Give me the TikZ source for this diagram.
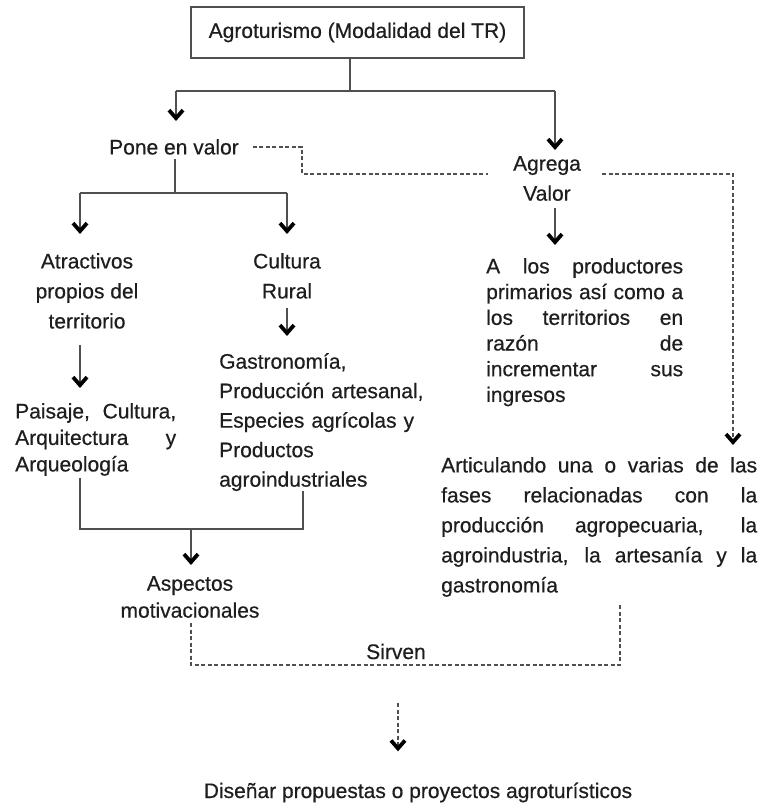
\documentclass[tikz,border=0pt]{standalone}
\usepackage{fontspec}
\setmainfont{Liberation Sans}[FakeBold=0.5]
\usetikzlibrary{arrows.meta}

\definecolor{inkgray}{HTML}{1E1E1E}
\definecolor{linegray}{HTML}{505050}
\hyphenpenalty=10000

\tikzset{
  txt/.style={inner sep=0pt, text=inkgray, font=\fontsize{21}{30}\selectfont},
  ctxt/.style={txt, align=center, anchor=north},
  jblock/.style={txt, align=justify, anchor=north west, text width=#1},
  link/.style={draw=linegray, line width=1.8pt},
  dlink/.style={draw=linegray, line width=1.6pt, dash pattern=on 4pt off 2.5pt},
  chev/.style={-{Straight Barb[length=8pt,width=14pt,line width=3.8pt,color=black]}},
}

\begin{document}
\begin{tikzpicture}[x=1pt,y=-1pt]
  \useasboundingbox (0,0) rectangle (766,806);

  %%% nodes
  \node[txt, draw=linegray, line width=1.6pt, minimum width=333pt, minimum height=51pt] (agro) at (357.5,32.5) {Agroturismo (Modalidad del TR)};

  \node[ctxt] (pone) at (174,139) {Pone en valor};
  \node[ctxt] (agrega) at (547,156) {Agrega\\Valor};

  \node[ctxt] (atr) at (87,253) {Atractivos\\propios del\\territorio};
  \node[ctxt] (cul) at (287,253) {Cultura\\Rural};

  \node[jblock=161pt, font=\fontsize{21}{26.5}\selectfont] (paisaje) at (15,403)
    {Paisaje, Cultura,\linebreak Arquitectura y\linebreak Arqueología};
  \node[txt, align=left, anchor=north west, text width=215pt, font=\fontsize{21}{29.5}\selectfont] (gastro) at (219,353)
    {Gastronomía,\\Producción artesanal,\\Especies agrícolas y\\Productos\\agroindustriales};

  \node[jblock=197pt, font=\fontsize{21}{25.7}\selectfont] (prod) at (486,258)
    {A los productores\linebreak primarios así como a\linebreak los territorios en\linebreak razón de\linebreak incrementar sus\linebreak ingresos};
  \node[jblock=316pt, font=\fontsize{21}{30}\selectfont] (artic) at (441,457)
    {Articulando una o varias de las\linebreak fases relacionadas con la\linebreak producción agropecuaria, la\linebreak agroindustria, la artesanía y la\linebreak gastronomía};

  \node[ctxt, font=\fontsize{21}{27}\selectfont] (asp) at (190,576) {Aspectos\\motivacionales};
  \node[txt, anchor=base] (sirven) at (396,659) {Sirven};
  \node[txt, anchor=base] (disenar) at (418,798) {Diseñar propuestas o proyectos agroturísticos};

  %%% solid connectors
  \coordinate (jtop) at (350,91);
  \coordinate (jl) at (176,91);
  \coordinate (jr) at (555,91);
  \draw[link] (agro.south -| jtop) -- (jtop);
  \draw[link] (jl) -- (jr);
  \draw[link, chev, shorten >=18pt] (jl) -- (pone.north -| jl);
  \draw[link, chev, shorten >=6pt] (jr) -- (agrega.north -| jr);

  \coordinate (jpone) at (175,193);
  \coordinate (jatr) at (80,193);
  \coordinate (jcul) at (287,193);
  \draw[link, shorten <=4pt] (pone.south -| jpone) -- (jpone);
  \draw[link] (jatr) -- (jcul);
  \draw[link, chev, shorten >=19pt] (jatr) -- (atr.north -| jatr);
  \draw[link, chev, shorten >=19pt] (jcul) -- (cul.north -| jcul);

  \draw[link, chev, shorten <=16pt, shorten >=15pt] (atr.south -| jatr) -- (paisaje.north -| jatr);
  \draw[link, chev, shorten <=9pt, shorten >=17pt] (cul.south -| jcul) -- (gastro.north -| jcul);
  \draw[link, chev, shorten <=7pt, shorten >=13pt] (agrega.south -| jr) -- (prod.north -| jr);

  \coordinate (jbl) at (80,529);
  \coordinate (jbr) at (303,529);
  \coordinate (jbot) at (191,529);
  \draw[link, shorten <=2pt] (paisaje.south -| jbl) -- (jbl) -- (jbr) -- (gastro.south -| jbr);
  \draw[link, chev, shorten >=11pt] (jbot) -- (asp.north -| jbot);

  %%% dashed connectors
  \coordinate (dbend) at (302,174);
  \coordinate (dright) at (733,174);
  \draw[dlink, shorten >=25pt] ([xshift=14pt]pone.east) -| (dbend) -- (agrega.west |- dbend);
  \draw[dlink, chev, shorten >=12pt] ([xshift=21pt]agrega.east |- dbend) -- (dright) -- (dright |- artic.north);

  \coordinate (dbl) at (191,665);
  \coordinate (dbr) at (620,665);
  \draw[dlink, shorten <=5pt, shorten >=7pt] (asp.south -| dbl) -- (dbl) -- (dbr) -- (artic.south -| dbr);

  \coordinate (dfrom) at (398,703);
  \draw[dlink, chev, shorten >=31pt] (dfrom) -- (disenar.north -| dfrom);
\end{tikzpicture}
\end{document}
